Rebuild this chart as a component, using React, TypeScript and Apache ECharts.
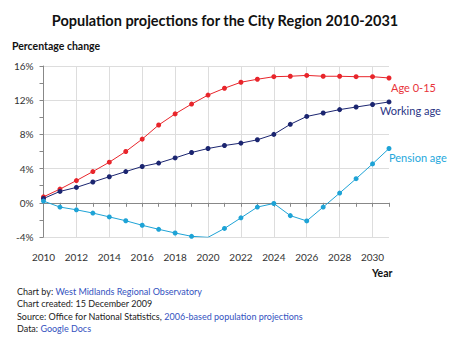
import React, { useEffect, useRef } from "react";
import * as echarts from "echarts";

const years = ["2010","2011","2012","2013","2014","2015","2016","2017","2018","2019","2020","2021","2022","2023","2024","2025","2026","2027","2028","2029","2030","2031"];
const age0to15 = [0.7,1.6,2.6,3.65,4.75,6.0,7.45,9.1,10.4,11.55,12.6,13.4,14.1,14.45,14.75,14.8,14.9,14.8,14.8,14.75,14.75,14.6];
const workingAge = [0.5,1.33,1.8,2.43,3.05,3.65,4.25,4.65,5.25,5.88,6.35,6.7,6.98,7.37,8.0,9.18,10.1,10.5,10.9,11.2,11.5,11.8];
const pensionAge = [0.2,-0.5,-0.82,-1.2,-1.65,-2.1,-2.63,-3.1,-3.53,-3.92,-4.04,-3.0,-1.76,-0.5,-0.08,-1.5,-2.12,-0.5,1.14,2.82,4.55,6.35];
const seriesNames = ["Age 0-15", "Working age", "Pension age"];
const seriesColors = ["#e8252b", "#1b2570", "#1ea3d6"];
const labelColors = ["#e8333a", "#2b3585", "#26a8dc"];
const labelOffsets = [[-6, 10], [-17, 9], [-8, 9]];
const footerLines = [
  ["Chart by: ", "West Midlands Regional Observatory"],
  ["Chart created: 15 December 2009", ""],
  ["Source: Office for National Statistics, ", "2006-based population projections"],
  ["Data: ", "Google Docs"],
];

const FONT = "Lato, 'Open Sans', sans-serif";

export default function App() {
  const ref = useRef<HTMLDivElement>(null);
  useEffect(() => {
    if (!ref.current) return;
    const chart = echarts.init(ref.current, undefined, { renderer: "svg" });
    const data = [age0to15, workingAge, pensionAge];
    const footerY = [292.5, 305, 317.5, 330];
    chart.setOption({
      animation: false,
      textStyle: { fontFamily: FONT },
      title: {
        text: "Population projections for the City Region 2010-2031",
        left: "center",
        top: 8,
        textStyle: { fontFamily: FONT, fontWeight: "bold", fontSize: 14.5, color: "#111" },
      },
      grid: { left: 43.5, right: 61, top: 66, bottom: 108 },
      xAxis: [
        {
          type: "category",
          data: years,
          boundaryGap: false,
          position: "bottom",
          axisLine: { show: false, onZero: false },
          axisTick: { show: false },
          axisLabel: { interval: 1, margin: 15, fontSize: 10, color: "#333", fontFamily: FONT },
          splitLine: { show: true, interval: 1, lineStyle: { color: "#dddddd", width: 1 } },
        },
        {
          type: "category",
          data: years,
          boundaryGap: false,
          position: "bottom",
          axisLine: { show: true, onZero: true, lineStyle: { color: "#888", width: 1 } },
          axisTick: { show: true, interval: 0, length: 4, lineStyle: { color: "#888" } },
          axisLabel: { show: false },
          splitLine: { show: false },
        },
      ],
      yAxis: {
        type: "value",
        min: -4,
        max: 16,
        interval: 4,
        axisLine: { show: true, lineStyle: { color: "#888", width: 1 } },
        axisTick: { show: true, length: 4, lineStyle: { color: "#888" } },
        minorTick: { show: true, splitNumber: 2, length: 4, lineStyle: { color: "#888" } },
        axisLabel: { formatter: "{value}%", fontSize: 10, color: "#333", margin: 10, fontFamily: FONT },
        splitLine: { show: true, lineStyle: { color: "#dddddd", width: 1 } },
      },
      series: seriesNames.map((name, i) => ({
        name,
        type: "line",
        xAxisIndex: 0,
        data: data[i],
        symbol: "circle",
        symbolSize: 5,
        showSymbol: true,
        lineStyle: { color: seriesColors[i], width: 1 },
        itemStyle: { color: seriesColors[i] },
        endLabel: {
          show: true,
          formatter: name,
          color: labelColors[i],
          fontSize: 11,
          fontFamily: FONT,
          offset: labelOffsets[i],
        },
      })),
      graphic: [
        {
          type: "text",
          left: 12,
          top: 40,
          style: { text: "Percentage change", fontFamily: FONT, fontWeight: "bold", fontSize: 10.5, fill: "#111" },
        },
        {
          type: "text",
          left: 372,
          top: 267,
          style: { text: "Year", fontFamily: FONT, fontWeight: "bold", fontSize: 10.5, fill: "#111" },
        },
        ...footerLines.map((line, i) => ({
          type: "text",
          left: 17,
          top: footerY[i] - 6,
          style: {
            text: `{a|${line[0]}}` + (line[1] ? `{b|${line[1]}}` : ""),
            rich: {
              a: { fontFamily: FONT, fontSize: 9, fill: "#222", color: "#222" },
              b: { fontFamily: FONT, fontSize: 9, fill: "#3352c0", color: "#3352c0" },
            },
          },
        })),
      ],
    });
    return () => chart.dispose();
  }, []);
  return <div ref={ref} style={{ width: 450, height: 345, position: "absolute", left: 0, top: 0 }} />;
}
